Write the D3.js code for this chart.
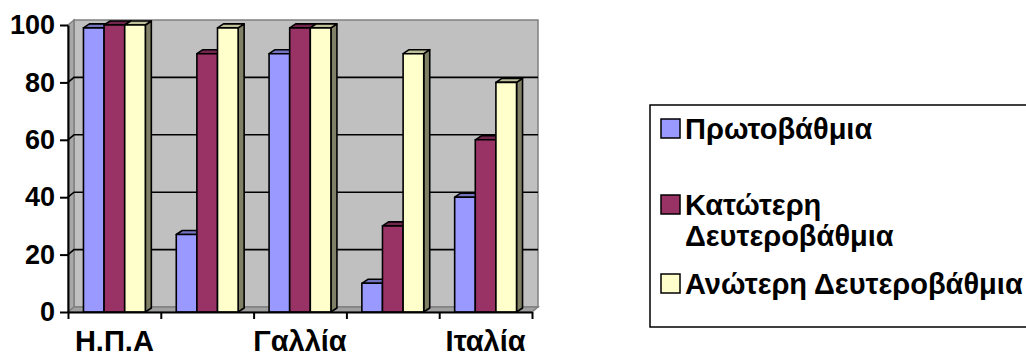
<!DOCTYPE html>
<html>
<head>
<meta charset="utf-8">
<script src="https://cdn.jsdelivr.net/npm/d3@7"></script>
<style>
  body { margin: 0; background: #fff; }
  svg { display: block; }
  text { font-family: "Liberation Sans", Arial, sans-serif; font-weight: bold; fill: #000; }
</style>
</head>
<body>
<svg id="chart" width="1026" height="356"></svg>
<script>
// Category labels (every second category label is left blank on the axis)
const categoryLabels = ["Η.Π.Α", "", "Γαλλία", "", "Ιταλία"];
// Series names
const seriesNames = ["Πρωτοβάθμια", "Κατώτερη Δευτεροβάθμια", "Ανώτερη Δευτεροβάθμια"];
// Series values (%)
const primary = [99, 27, 90, 10, 40];
const lowerSecondary = [100, 90, 99, 30, 60];
const upperSecondary = [100, 99, 99, 90, 80];
// Value axis ticks
const yTicks = [0, 20, 40, 60, 80, 100];

const seriesValues = [primary, lowerSecondary, upperSecondary];
const seriesColors = ["#9999FF", "#993366", "#FFFFCC"];

const svg = d3.select("#chart");
const VALUE_FONT = 27, LABEL_FONT = 29;

// Front plane of the plot and the 3D depth offset
const plotLeft = 68, plotRight = 532, plotBottom = 312, plotTop = 25;
const wallDX = 6, wallDY = -5;
const barDX = 6, barDY = -4;

const y = d3.scaleLinear().domain([0, 100]).range([plotBottom, plotTop]);
const x = d3.scaleBand().domain(d3.range(categoryLabels.length)).range([plotLeft, plotRight]);
const xs = d3.scaleBand().domain(d3.range(seriesNames.length))
  .range([0, x.bandwidth()]).paddingInner(0).paddingOuter(0.75);
const xEdge = d3.scaleLinear().domain([0, categoryLabels.length]).range([plotLeft, plotRight]);

const shade = (c, k) => { const r = d3.rgb(c); return d3.rgb(r.r * k, r.g * k, r.b * k).formatHex(); };
const poly = pts => "M" + pts.map(p => p.join(",")).join("L") + "Z";

// Walls and floor
const walls = svg.append("g");
walls.append("rect")
  .attr("x", plotLeft + wallDX).attr("y", y(100) + wallDY)
  .attr("width", plotRight - plotLeft).attr("height", y(0) - y(100))
  .attr("fill", "#C0C0C0").attr("stroke", "#808080").attr("stroke-width", 1.5);
walls.append("path")
  .attr("d", poly([[plotLeft, y(100)], [plotLeft + wallDX, y(100) + wallDY], [plotLeft + wallDX, y(0) + wallDY], [plotLeft, y(0)]]))
  .attr("fill", "#A8A8A8").attr("stroke", "#808080").attr("stroke-width", 1.5);
walls.append("path")
  .attr("d", poly([[plotLeft, y(0)], [plotLeft + wallDX, y(0) + wallDY], [plotRight + wallDX, y(0) + wallDY], [plotRight, y(0)]]))
  .attr("fill", "#A0A0A0").attr("stroke", "#808080").attr("stroke-width", 1.5);

// Gridlines across the side wall and back wall
walls.selectAll("path.grid")
  .data(yTicks.filter(v => v > 0 && v < 100))
  .join("path").attr("class", "grid")
  .attr("d", v => `M${plotLeft},${y(v)}L${plotLeft + wallDX},${y(v) + wallDY}L${plotRight + wallDX},${y(v) + wallDY}`)
  .attr("fill", "none").attr("stroke", "#000").attr("stroke-width", 1.6);

// Bars: side, top, front per bar, left to right
const bars = svg.append("g").attr("stroke", "#000").attr("stroke-width", 1.6).attr("stroke-linejoin", "round");
categoryLabels.forEach((_, i) => {
  seriesValues.forEach((vals, s) => {
    const v = vals[i];
    const xl = x(i) + xs(s), w = xs.bandwidth(), yt = y(v), yb = y(0);
    const col = seriesColors[s];
    const g = bars.append("g");
    g.append("path").attr("fill", shade(col, 0.5))
      .attr("d", poly([[xl + w, yt], [xl + w + barDX, yt + barDY], [xl + w + barDX, yb + barDY], [xl + w, yb]]));
    g.append("path").attr("fill", shade(col, 0.75))
      .attr("d", poly([[xl, yt], [xl + barDX, yt + barDY], [xl + w + barDX, yt + barDY], [xl + w, yt]]));
    g.append("rect").attr("fill", col)
      .attr("x", xl).attr("y", yt).attr("width", w).attr("height", yb - yt);
  });
});

// Value axis
const yAxis = svg.append("g").attr("transform", `translate(${plotLeft},0)`)
  .call(d3.axisLeft(y).tickValues(yTicks).tickSize(8).tickSizeOuter(0).tickPadding(5));
yAxis.select(".domain").attr("stroke", "#000").attr("stroke-width", 2);
yAxis.selectAll(".tick line").attr("stroke", "#000").attr("stroke-width", 2);
yAxis.selectAll(".tick text").attr("font-size", VALUE_FONT).attr("font-family", null);

// Category axis: tick marks on category boundaries
const xAxis = svg.append("g").attr("transform", `translate(0,${plotBottom})`)
  .call(d3.axisBottom(xEdge).tickValues(d3.range(categoryLabels.length + 1)).tickSize(7).tickSizeOuter(0).tickFormat(""));
xAxis.select(".domain").attr("stroke", "#000").attr("stroke-width", 2);
xAxis.selectAll(".tick line").attr("stroke", "#000").attr("stroke-width", 2);

// Category labels centred in each band
const xLab = svg.append("g").attr("transform", `translate(0,${plotBottom})`)
  .call(d3.axisBottom(x).tickSize(0).tickPadding(18).tickFormat(i => categoryLabels[i]));
xLab.select(".domain").remove();
xLab.selectAll(".tick text").attr("font-size", LABEL_FONT).attr("font-family", null);

// Legend
const legend = svg.append("g");
legend.append("rect").attr("x", 650).attr("y", 105).attr("width", 400).attr("height", 222)
  .attr("fill", "#fff").attr("stroke", "#000").attr("stroke-width", 1.5);
const legendLines = [[seriesNames[0]], seriesNames[1].split(" "), [seriesNames[2]]];
const legendBase = [139, 215, 294];
legendLines.forEach((lines, s) => {
  legend.append("rect").attr("x", 661).attr("y", legendBase[s] - 20).attr("width", 19).attr("height", 19)
    .attr("fill", seriesColors[s]).attr("stroke", "#000").attr("stroke-width", 1.5);
  lines.forEach((t, k) => {
    legend.append("text").attr("x", 685).attr("y", legendBase[s] + k * 31)
      .attr("font-size", LABEL_FONT).text(t);
  });
});
</script>
</body>
</html>
